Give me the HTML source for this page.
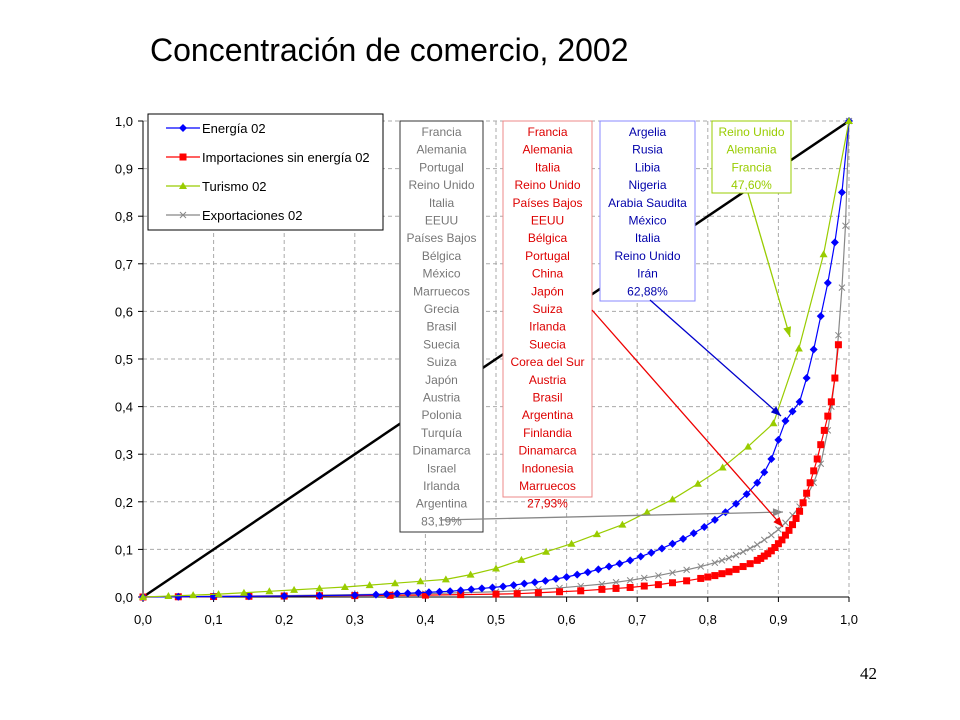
<!DOCTYPE html>
<html><head><meta charset="utf-8"><style>
body{margin:0;background:#fff;}
#wrap{position:relative;width:960px;height:720px;overflow:hidden;background:#fff;font-family:"Liberation Sans",sans-serif;}
</style></head><body>
<div id="wrap">
<div style="position:absolute;left:150px;top:32px;font-size:32px;color:#000;">Concentración de comercio, 2002</div>
<div style="position:absolute;left:860px;top:664px;font-family:'Liberation Serif',serif;font-size:17px;">42</div>
<svg id="chart" width="960" height="720" style="position:absolute;left:0;top:0" font-family="Liberation Sans, sans-serif"></svg>
</div>
<script>
const xTicks=["0,0","0,1","0,2","0,3","0,4","0,5","0,6","0,7","0,8","0,9","1,0"];
const yTicks=["0,0","0,1","0,2","0,3","0,4","0,5","0,6","0,7","0,8","0,9","1,0"];
const turX=[0,0.036,0.071,0.107,0.143,0.179,0.214,0.25,0.286,0.321,0.357,0.393,0.429,0.464,0.5,0.536,0.571,0.607,0.643,0.679,0.714,0.75,0.786,0.821,0.857,0.893,0.929,0.964,1];
const turY=[0,0.002,0.004,0.006,0.009,0.012,0.015,0.018,0.021,0.025,0.029,0.033,0.037,0.047,0.06,0.078,0.095,0.112,0.132,0.152,0.178,0.205,0.238,0.272,0.316,0.365,0.522,0.72,1];
const eneX=[0,0.05,0.1,0.15,0.2,0.25,0.3,0.33,0.345,0.36,0.375,0.39,0.405,0.42,0.435,0.45,0.465,0.48,0.495,0.51,0.525,0.54,0.555,0.57,0.585,0.6,0.615,0.63,0.645,0.66,0.675,0.69,0.705,0.72,0.735,0.75,0.765,0.78,0.795,0.81,0.825,0.84,0.855,0.87,0.88,0.89,0.9,0.91,0.92,0.93,0.94,0.95,0.96,0.97,0.98,0.99,1];
const eneY=[0,0.0005,0.001,0.0015,0.002,0.003,0.004,0.005,0.006,0.007,0.008,0.009,0.01,0.011,0.012,0.014,0.016,0.018,0.02,0.022,0.025,0.028,0.031,0.034,0.038,0.042,0.047,0.052,0.058,0.064,0.07,0.077,0.085,0.093,0.102,0.112,0.122,0.134,0.147,0.162,0.178,0.196,0.216,0.24,0.262,0.29,0.33,0.37,0.39,0.41,0.46,0.52,0.59,0.66,0.745,0.85,1];
const impX=[0,0.05,0.1,0.15,0.2,0.25,0.3,0.35,0.4,0.45,0.5,0.53,0.56,0.59,0.62,0.65,0.67,0.69,0.71,0.73,0.75,0.77,0.79,0.8,0.81,0.82,0.83,0.84,0.85,0.86,0.87,0.875,0.88,0.885,0.89,0.895,0.9,0.905,0.91,0.915,0.92,0.925,0.93,0.935,0.94,0.945,0.95,0.955,0.96,0.965,0.97,0.975,0.98,0.985];
const impY=[0,0.0005,0.001,0.0015,0.002,0.0025,0.003,0.0035,0.004,0.005,0.006,0.007,0.009,0.011,0.013,0.016,0.018,0.02,0.023,0.026,0.03,0.034,0.039,0.042,0.045,0.049,0.053,0.058,0.064,0.07,0.077,0.081,0.086,0.091,0.097,0.104,0.112,0.12,0.13,0.14,0.152,0.165,0.18,0.198,0.218,0.24,0.265,0.29,0.32,0.35,0.38,0.41,0.46,0.53];
const expX=[0,0.05,0.1,0.15,0.2,0.25,0.3,0.35,0.4,0.45,0.5,0.53,0.56,0.59,0.62,0.65,0.67,0.69,0.71,0.73,0.75,0.77,0.79,0.81,0.82,0.83,0.84,0.85,0.86,0.87,0.88,0.89,0.9,0.91,0.92,0.93,0.94,0.95,0.96,0.97,0.975,0.98,0.985,0.99,0.995,1];
const expY=[0,0.0005,0.001,0.002,0.003,0.004,0.005,0.006,0.007,0.009,0.011,0.013,0.016,0.019,0.023,0.027,0.031,0.035,0.04,0.045,0.051,0.057,0.064,0.072,0.077,0.082,0.088,0.095,0.102,0.11,0.12,0.13,0.142,0.156,0.172,0.19,0.212,0.24,0.28,0.35,0.4,0.46,0.55,0.65,0.78,1];
const NS="http://www.w3.org/2000/svg";
const svg=document.getElementById('chart');
const X0=143,X1=849,Y0=597,Y1=121;
function sx(v){return X0+(X1-X0)*v;}
function sy(v){return Y0-(Y0-Y1)*v;}
function mk(tag,attrs,parent){const e=document.createElementNS(NS,tag);for(const k in attrs)e.setAttribute(k,attrs[k]);(parent||svg).appendChild(e);return e;}
const grid=mk('g',{});


for(let i=1;i<xTicks.length;i++){mk('line',{x1:sx(i/10),x2:sx(i/10),y1:Y1,y2:Y0,stroke:'#aaa','stroke-dasharray':'4,3'},grid);}
for(let i=1;i<yTicks.length;i++){mk('line',{x1:X0,x2:X1,y1:sy(i/10),y2:sy(i/10),stroke:'#aaa','stroke-dasharray':'4,3'},grid);}
const ax=mk('g',{});


mk('line',{x1:X0,x2:X0,y1:Y1,y2:Y0,stroke:'#000'},ax);
mk('line',{x1:X0,x2:X1,y1:Y0,y2:Y0,stroke:'#000'},ax);
xTicks.forEach((t,i)=>{const x=sx(i/10);mk('line',{x1:x,x2:x,y1:Y0,y2:Y0+5,stroke:'#000'},ax);
const tx=mk('text',{x:x,y:Y0+27,'text-anchor':'middle','font-size':13},ax);tx.textContent=t;

});
yTicks.forEach((t,i)=>{const y=sy(i/10);mk('line',{x1:X0-5,x2:X0,y1:y,y2:y,stroke:'#000'},ax);
const tx=mk('text',{x:X0-10,y:y+5,'text-anchor':'end','font-size':13},ax);tx.textContent=t;

});
const diag=mk('line',{x1:sx(0),y1:sy(0),x2:sx(1),y2:sy(1),stroke:'#000','stroke-width':2.5});


function series(xs,ys,color,marker,name){
 const g=mk('g',{});
 
 
 mk('polyline',{points:xs.map((x,i)=>sx(x)+','+sy(ys[i])).join(' '),fill:'none',stroke:color,'stroke-width':1.2},g);
 xs.forEach((x,i)=>{const px=sx(x),py=sy(ys[i]);drawMarker(g,marker,px,py,color);});
}
function drawMarker(g,m,px,py,c){
 if(m==='d')mk('polygon',{points:`${px},${py-4} ${px+4},${py} ${px},${py+4} ${px-4},${py}`,fill:c},g);
 else if(m==='s')mk('rect',{x:px-3.5,y:py-3.5,width:7,height:7,fill:c},g);
 else if(m==='t')mk('polygon',{points:`${px},${py-4} ${px+4},${py+3} ${px-4},${py+3}`,fill:c},g);
 else {mk('path',{d:`M${px-3},${py-3}L${px+3},${py+3}M${px-3},${py+3}L${px+3},${py-3}`,stroke:c,'stroke-width':1},g);}
}
series(expX,expY,'#888','x','series-exportaciones');
series(impX,impY,'#f00','s','series-importaciones');
series(eneX,eneY,'#0000ff','d','series-energia');
series(turX,turY,'#9c0','t','series-turismo');
const lg=mk('g',{});


mk('rect',{x:148,y:114,width:235,height:116,fill:'#fff',stroke:'#000'},lg);
[['Energía 02','#0000ff','d'],['Importaciones sin energía 02','#f00','s'],['Turismo 02','#9c0','t'],['Exportaciones 02','#888','x']].forEach((e,i)=>{
 const y=128+i*29;
 const it=mk('g',{},lg);
 
 
 mk('line',{x1:166,x2:200,y1:y,y2:y,stroke:e[1],'stroke-width':1.2},it);
 drawMarker(it,e[2],183,y,e[1]);
 const t=mk('text',{x:202,y:y+5,'font-size':13},it);t.textContent=e[0];
});
function box(x,y,w,h,border,color,lines,name){
 const g=mk('g',{});
 
 
 mk('rect',{x:x,y:y,width:w,height:h,fill:'#fff',stroke:border},g);
 lines.forEach((l,i)=>{const t=mk('text',{x:x+w/2,y:y+15+i*17.7,'text-anchor':'middle','font-size':12,fill:color},g);t.textContent=l;});
}
function arrow(x1,y1,x2,y2,c,name){
 const g=mk('g',{});
 
 
 mk('line',{x1,y1,x2,y2,stroke:c,'stroke-width':1.3},g);
 const a=Math.atan2(y2-y1,x2-x1),L=10,W=4;
 const bx=x2-L*Math.cos(a),by=y2-L*Math.sin(a);
 mk('polygon',{points:`${x2},${y2} ${bx-W*Math.sin(a)},${by+W*Math.cos(a)} ${bx+W*Math.sin(a)},${by-W*Math.cos(a)}`,fill:c},g);
}
box(400,121,83,411,'#333','#777',["Francia","Alemania","Portugal","Reino Unido","Italia","EEUU","Países Bajos","Bélgica","México","Marruecos","Grecia","Brasil","Suecia","Suiza","Japón","Austria","Polonia","Turquía","Dinamarca","Israel","Irlanda","Argentina","83,19%"],'exportaciones-annotation');
box(503,121,89,376,'#e88','#d00',["Francia","Alemania","Italia","Reino Unido","Países Bajos","EEUU","Bélgica","Portugal","China","Japón","Suiza","Irlanda","Suecia","Corea del Sur","Austria","Brasil","Argentina","Finlandia","Dinamarca","Indonesia","Marruecos","27,93%"],'importaciones-annotation');
box(600,121,95,180,'#88f','#00a',["Argelia","Rusia","Libia","Nigeria","Arabia Saudita","México","Italia","Reino Unido","Irán","62,88%"],'energia-annotation');
box(712,121,79,72,'#9c0','#9c0',["Reino Unido","Alemania","Francia","47,60%"],'turismo-annotation');
arrow(440,520,783,512,'#888','exportaciones-arrow');
arrow(592,310,783,527,'#e00','importaciones-arrow');
arrow(650,300,781,416,'#00c','energia-arrow');
arrow(748,193,790,337,'#9c0','turismo-arrow');
</script>
</body></html>
